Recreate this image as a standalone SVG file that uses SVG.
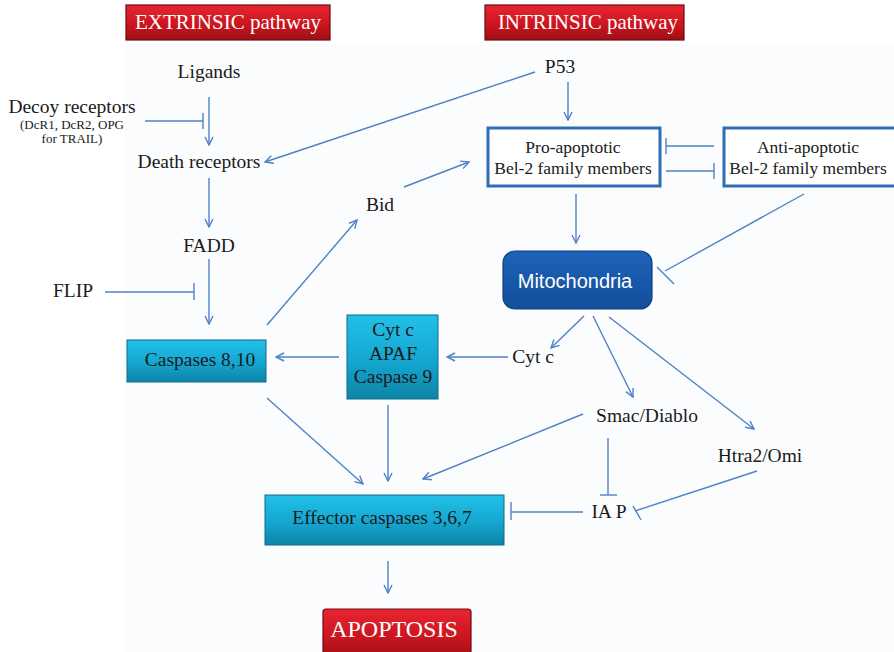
<svg xmlns="http://www.w3.org/2000/svg" width="894" height="652" viewBox="0 0 894 652">
<defs>
<linearGradient id="gCyan" x1="0" y1="0" x2="0" y2="1">
<stop offset="0" stop-color="#22c0e8"/>
<stop offset="0.55" stop-color="#14a6d0"/>
<stop offset="1" stop-color="#0d84a6"/>
</linearGradient>
<linearGradient id="gRed" x1="0" y1="0" x2="0" y2="1">
<stop offset="0" stop-color="#e82530"/>
<stop offset="0.6" stop-color="#c8141e"/>
<stop offset="1" stop-color="#9e0f17"/>
</linearGradient>
<linearGradient id="gBlue" x1="0" y1="0" x2="0" y2="1">
<stop offset="0" stop-color="#1e62b8"/>
<stop offset="1" stop-color="#134f9c"/>
</linearGradient>
<marker id="arr" viewBox="0 0 10 10" refX="9" refY="5" markerWidth="10" markerHeight="10" markerUnits="userSpaceOnUse" orient="auto">
<path d="M1,1 L9,5 L1,9" fill="none" stroke="#4f82c4" stroke-width="1.4"/>
</marker>
</defs>
<style>
.t{font-family:"Liberation Serif","Times New Roman",serif;font-size:19.5px;fill:#1a1a1a;text-anchor:middle}
.ts{font-family:"Liberation Serif","Times New Roman",serif;font-size:13px;fill:#1a1a1a;text-anchor:middle}
.tb{font-family:"Liberation Serif","Times New Roman",serif;font-size:17.5px;fill:#1a1a1a;text-anchor:middle}
.tw{font-family:"Liberation Serif","Times New Roman",serif;font-size:21px;fill:#ffffff;text-anchor:middle}
.tm{font-family:"Liberation Sans",Arial,sans-serif;font-size:20px;fill:#ffffff;text-anchor:middle}
.cy{fill:url(#gCyan);stroke:#0b6d8a;stroke-width:1}
.rd{fill:url(#gRed);stroke:#6e0a10;stroke-width:1.2}
.wb{fill:#ffffff;stroke:#2f6db4;stroke-width:3}
.ln{fill:none;stroke:#4f82c4;stroke-width:1.4}
.ar{fill:none;stroke:#4f82c4;stroke-width:1.4;marker-end:url(#arr)}
</style>
<rect x="0" y="0" width="894" height="652" fill="#ffffff"/>
<rect x="125" y="44" width="769" height="608" fill="#fbfcfe"/>

<g id="extrinsic-header">
<rect class="rd" x="126" y="5" width="204" height="35"/>
<text class="tw" x="228" y="29">EXTRINSIC pathway</text>
</g>
<g id="intrinsic-header">
<rect class="rd" x="485" y="5" width="199" height="35"/>
<text class="tw" x="588" y="29">INTRINSIC pathway</text>
</g>
<g id="ligands"><text class="t" x="209" y="78">Ligands</text></g>
<g id="decoy">
<text class="t" x="72" y="113">Decoy receptors</text>
<text class="ts" x="72" y="129">(DcR1, DcR2, OPG</text>
<text class="ts" x="72" y="143">for TRAIL)</text>
</g>
<g id="death-receptors"><text class="t" x="199" y="168">Death receptors</text></g>
<g id="fadd"><text class="t" x="209" y="252">FADD</text></g>
<g id="flip"><text class="t" x="73" y="297">FLIP</text></g>
<g id="caspases-8-10">
<rect class="cy" x="127" y="340" width="139" height="42"/>
<text class="t" x="200" y="366">Caspases 8,10</text>
</g>
<g id="bid"><text class="t" x="380" y="211">Bid</text></g>
<g id="p53"><text class="t" x="560" y="73">P53</text></g>
<g id="pro-apoptotic">
<rect class="wb" x="488" y="128" width="172" height="58"/>
<text class="tb" x="573" y="153">Pro-apoptotic</text>
<text class="tb" x="573" y="174">Bel-2 family members</text>
</g>
<g id="anti-apoptotic">
<rect class="wb" x="724" y="128" width="172" height="58"/>
<text class="tb" x="808" y="153">Anti-apoptotic</text>
<text class="tb" x="808" y="174">Bel-2 family members</text>
</g>
<g id="mitochondria">
<rect x="503" y="251" width="149" height="58" rx="12" fill="url(#gBlue)" stroke="#0e3f80" stroke-width="1.2"/>
<text class="tm" x="575" y="288">Mitochondria</text>
</g>
<g id="cyt-c"><text class="t" x="533" y="363">Cyt c</text></g>
<g id="apoptosome">
<rect class="cy" x="347" y="315" width="91" height="84"/>
<text class="t" x="393" y="336">Cyt c</text>
<text class="t" x="393" y="360">APAF</text>
<text class="t" x="393" y="383">Caspase 9</text>
</g>
<g id="smac"><text class="t" x="647" y="422">Smac/Diablo</text></g>
<g id="htra2"><text class="t" x="760" y="462">Htra2/Omi</text></g>
<g id="iap"><text class="t" x="609" y="518">IA P</text></g>
<g id="effector">
<rect class="cy" x="265" y="495" width="239" height="50"/>
<text class="t" x="382" y="524">Effector caspases 3,6,7</text>
</g>
<g id="apoptosis">
<rect class="rd" x="323" y="609" width="148" height="50" rx="3"/>
<text class="tw" x="394" y="637" style="font-size:24px">APOPTOSIS</text>
</g>

<g id="connectors">
<line class="ar" x1="209" y1="97" x2="209" y2="145"/>
<line class="ln" x1="145" y1="121" x2="203" y2="121"/>
<line class="ln" x1="203" y1="113" x2="203" y2="129"/>
<line class="ar" x1="535" y1="72" x2="265" y2="162"/>
<line class="ar" x1="209" y1="178" x2="209" y2="227"/>
<line class="ar" x1="209" y1="259" x2="209" y2="324"/>
<line class="ln" x1="105" y1="292" x2="194" y2="292"/>
<line class="ln" x1="194" y1="283" x2="194" y2="300"/>
<line class="ar" x1="267" y1="325" x2="357" y2="220"/>
<line class="ar" x1="404" y1="187" x2="469" y2="162"/>
<line class="ar" x1="568" y1="82" x2="568" y2="120"/>
<line class="ln" x1="714" y1="146" x2="666" y2="146"/>
<line class="ln" x1="666" y1="138" x2="666" y2="154"/>
<line class="ln" x1="666" y1="171" x2="714" y2="171"/>
<line class="ln" x1="714" y1="163" x2="714" y2="179"/>
<line class="ar" x1="576" y1="194" x2="576" y2="243"/>
<line class="ln" x1="804" y1="194" x2="665" y2="271"/>
<line class="ln" x1="657" y1="267" x2="674" y2="284"/>
<line class="ar" x1="584" y1="316" x2="551" y2="348"/>
<line class="ar" x1="593" y1="316" x2="633" y2="397"/>
<line class="ar" x1="609" y1="317" x2="754" y2="429"/>
<line class="ar" x1="508" y1="357" x2="447" y2="357"/>
<line class="ar" x1="339" y1="357" x2="276" y2="357"/>
<line class="ar" x1="267" y1="398" x2="363" y2="484"/>
<line class="ar" x1="388" y1="405" x2="388" y2="481"/>
<line class="ar" x1="583" y1="414" x2="423" y2="479"/>
<line class="ln" x1="608" y1="438" x2="608" y2="495"/>
<line class="ln" x1="600" y1="495" x2="617" y2="495"/>
<line class="ln" x1="757" y1="471" x2="635" y2="511"/>
<line class="ln" x1="633" y1="506" x2="641" y2="520"/>
<line class="ln" x1="583" y1="512" x2="511" y2="512"/>
<line class="ln" x1="511" y1="502" x2="511" y2="520"/>
<line class="ar" x1="388" y1="561" x2="388" y2="593"/>
</g>
</svg>
